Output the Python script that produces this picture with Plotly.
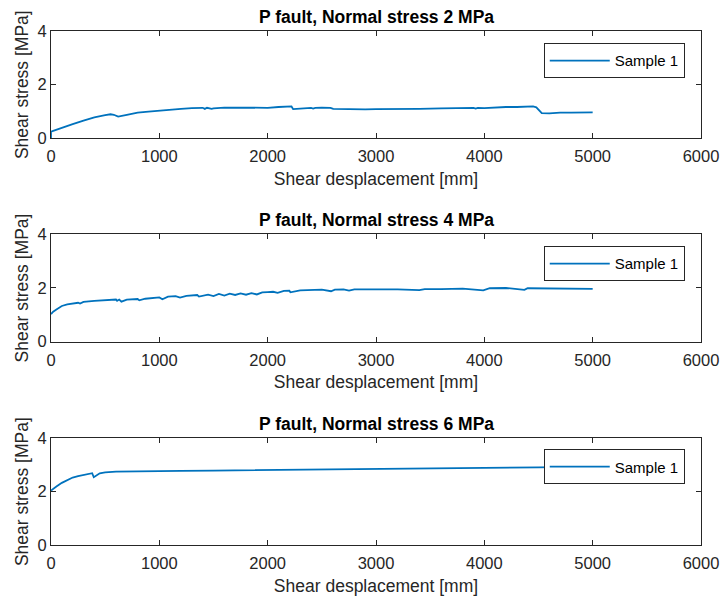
import plotly.graph_objects as go

# ---- data ----
x_2mpa = [0, 0, 20, 100, 200, 300, 400, 500, 550, 580, 620, 700, 800, 900, 1000, 1100, 1200, 1300,
          1400, 1420, 1440, 1483, 1500, 1600, 1800, 2000, 2100, 2200, 2220, 2235, 2300, 2400, 2420,
          2440, 2500, 2580, 2605, 2700, 2800, 2900, 3000, 3200, 3400, 3600, 3800, 3900, 3920, 3940,
          4000, 4100, 4200, 4300, 4400, 4450, 4480, 4500, 4530, 4600, 4700, 4800, 4900, 5000]
y_2mpa = [0.0, 0.25, 0.28, 0.40, 0.53, 0.66, 0.78, 0.87, 0.90, 0.88, 0.81, 0.88, 0.96, 1.00, 1.04,
          1.08, 1.10, 1.13, 1.14, 1.10, 1.14, 1.10, 1.12, 1.15, 1.14, 1.14, 1.17, 1.18, 1.19, 1.09,
          1.12, 1.14, 1.11, 1.14, 1.15, 1.14, 1.10, 1.09, 1.08, 1.08, 1.09, 1.09, 1.10, 1.12, 1.13,
          1.14, 1.11, 1.14, 1.13, 1.16, 1.17, 1.17, 1.18, 1.19, 1.16, 1.06, 0.94, 0.93, 0.96, 0.96,
          0.97, 0.97]

x_4mpa = [0, 20, 50, 100, 150, 200, 250, 268, 300, 400, 500, 600, 610, 630, 650, 700, 800, 815,
          870, 950, 1000, 1028, 1080, 1150, 1191, 1250, 1350, 1366, 1450, 1500, 1550, 1600, 1650,
          1700, 1750, 1800, 1850, 1900, 1950, 2000, 2050, 2092, 2150, 2200, 2210, 2300, 2400, 2500,
          2585, 2620, 2700, 2751, 2800, 2900, 3000, 3100, 3200, 3400, 3450, 3600, 3800, 3990, 4050,
          4200, 4370, 4400, 4600, 4800, 5000]
y_4mpa = [1.03, 1.12, 1.20, 1.33, 1.39, 1.43, 1.45, 1.42, 1.48, 1.52, 1.55, 1.57, 1.52, 1.57, 1.49,
          1.57, 1.59, 1.54, 1.60, 1.64, 1.65, 1.58, 1.68, 1.70, 1.64, 1.71, 1.74, 1.68, 1.75, 1.70,
          1.78, 1.72, 1.79, 1.74, 1.80, 1.75, 1.81, 1.76, 1.84, 1.85, 1.86, 1.82, 1.89, 1.90, 1.84,
          1.91, 1.93, 1.94, 1.88, 1.94, 1.95, 1.90, 1.95, 1.95, 1.96, 1.96, 1.95, 1.92, 1.96, 1.96,
          1.98, 1.91, 1.99, 2.00, 1.93, 1.99, 1.99, 1.98, 1.97]

x_6mpa = [0, 20, 50, 100, 150, 200, 250, 300, 350, 380, 395, 420, 450, 500, 600, 800, 1000, 1200,
          1500, 1800, 2000, 2500, 3000, 3500, 4000, 4500, 5000]
y_6mpa = [2.04, 2.09, 2.19, 2.33, 2.44, 2.53, 2.58, 2.63, 2.66, 2.69, 2.54, 2.61, 2.69, 2.72, 2.75,
          2.76, 2.76, 2.78, 2.79, 2.80, 2.81, 2.84, 2.85, 2.86, 2.89, 2.91, 2.94]

titles = ["P fault, Normal stress 2 MPa", "P fault, Normal stress 4 MPa", "P fault, Normal stress 6 MPa"]
series_name = "Sample 1"
x_label = "Shear desplacement [mm]"
y_label = "Shear stress [MPa]"
x_ticks = [0, 1000, 2000, 3000, 4000, 5000, 6000]
y_ticks = [0, 2, 4]

# ---- figure ----
FONT = "Liberation Sans, Arial, sans-serif"
AX = "#262626"
BLUE = "#0072BD"

fig = go.Figure()
series = [(x_2mpa, y_2mpa), (x_4mpa, y_4mpa), (x_6mpa, y_6mpa)]
legends = ["legend", "legend2", "legend3"]
for i, (xs, ys) in enumerate(series):
    sfx = "" if i == 0 else str(i + 1)
    fig.add_trace(go.Scatter(x=xs, y=ys, mode="lines", name=series_name,
                             line=dict(color=BLUE, width=1.8),
                             xaxis="x" + sfx, yaxis="y" + sfx, legend=legends[i]))

domains = [[0.791, 1.0], [0.3955, 0.6045], [0.0, 0.2076]]
layout = dict(width=725, height=601, paper_bgcolor="white", plot_bgcolor="white",
              margin=dict(l=51, r=24, t=31, b=56, autoexpand=False),
              font=dict(family=FONT, color=AX))
annotations = []
for i in range(3):
    sfx = "" if i == 0 else str(i + 1)
    layout["xaxis" + sfx] = dict(domain=[0, 1], anchor="y" + sfx, range=[0, 6000], tickvals=x_ticks,
                                 ticks="inside", ticklen=5, tickcolor=AX, showline=True, linecolor=AX,
                                 linewidth=1, mirror="ticks", showgrid=False, zeroline=False,
                                 tickfont=dict(size=16.5, color=AX, family=FONT), ticklabelstandoff=3,
                                 title=dict(text=x_label, font=dict(size=17.5, color=AX, family=FONT), standoff=8),
                                 automargin=False)
    layout["yaxis" + sfx] = dict(domain=domains[i], anchor="x" + sfx, range=[0, 4], tickvals=y_ticks,
                                 ticks="inside", ticklen=5, tickcolor=AX, showline=True, linecolor=AX,
                                 linewidth=1, mirror="ticks", showgrid=False, zeroline=False,
                                 tickfont=dict(size=16.5, color=AX, family=FONT),
                                 title=dict(text=y_label, font=dict(size=17.5, color=AX, family=FONT), standoff=4),
                                 automargin=False)
    annotations.append(dict(text="<b>" + titles[i] + "</b>", xref="paper", yref="paper", x=0.5,
                            y=domains[i][1], xanchor="center", yanchor="bottom", yshift=2, showarrow=False,
                            font=dict(size=17.5, color="#000000", family=FONT)))
leg_tops = [0.976, 0.581, 0.186]
for i, lg in enumerate(legends):
    layout[lg] = dict(x=0.975, y=leg_tops[i], xanchor="right", yanchor="top", bgcolor="white",
                      bordercolor=AX, borderwidth=1, font=dict(size=15, color="#000000", family=FONT),
                      itemwidth=60)
layout["annotations"] = annotations
layout["showlegend"] = True
fig.update_layout(**layout)
fig.write_html("out.html", post_script="document.body.style.margin='0px';",
               config={"displayModeBar": False})
